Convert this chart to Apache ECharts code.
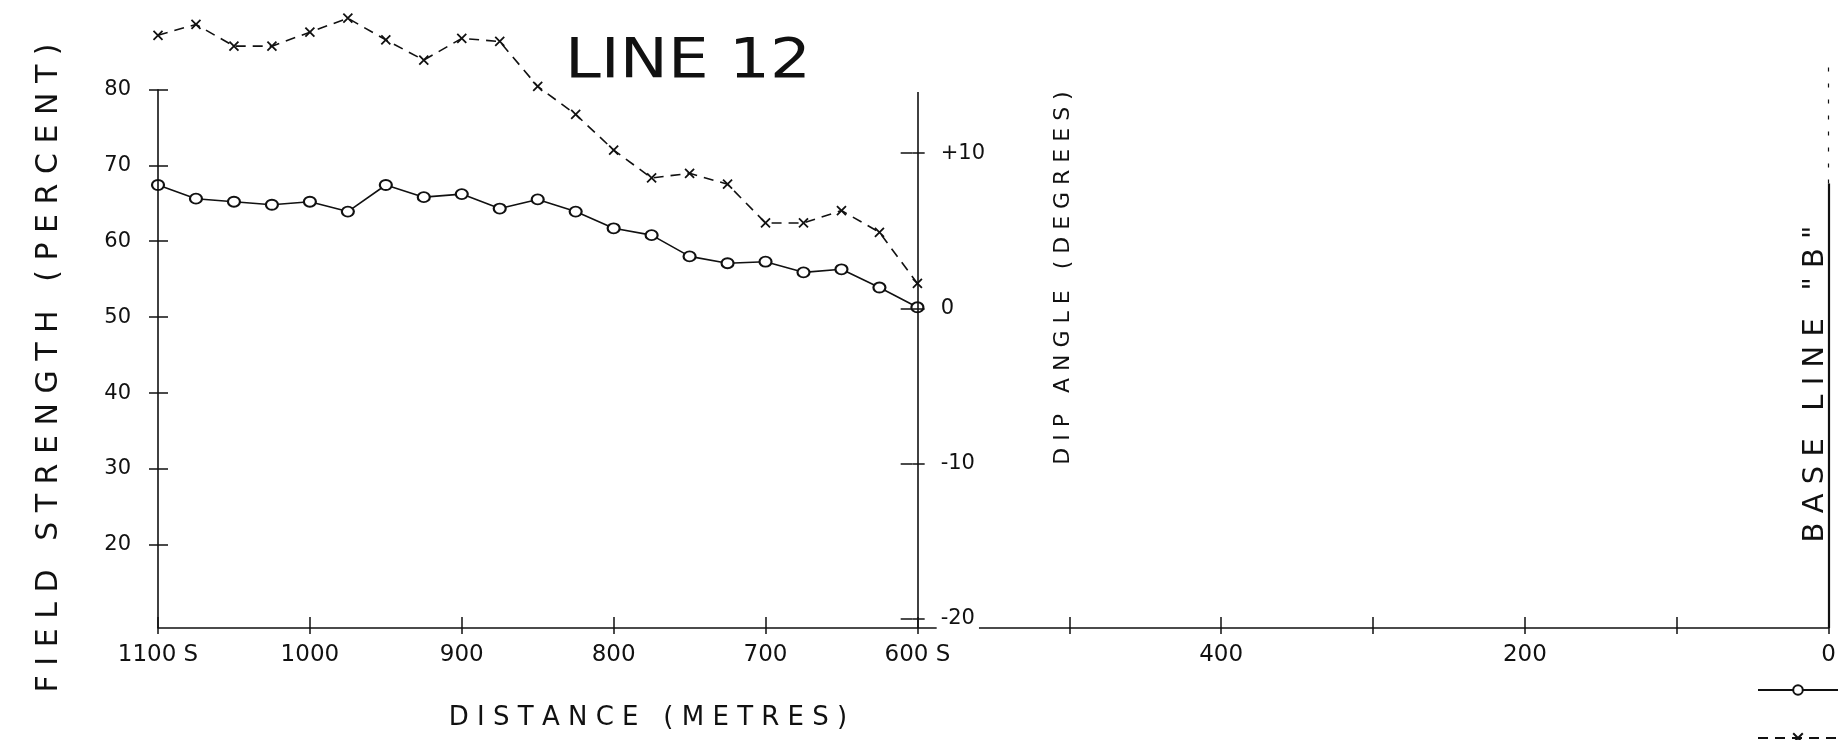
<!DOCTYPE html>
<html>
<head>
<meta charset="utf-8">
<script src="https://cdn.jsdelivr.net/npm/echarts@6/dist/echarts.min.js"></script>
<style>
html,body{margin:0;padding:0;background:#fff;}
#chart{width:1839px;height:740px;}
</style>
</head>
<body>
<div id="chart"></div>
<script>
// ---- data ----
const distances = [1100,1075,1050,1025,1000,975,950,925,900,875,850,825,800,775,750,725,700,675,650,625,600];
const fieldStrength = [67.4,65.6,65.2,64.8,65.2,63.9,67.4,65.8,66.2,64.3,65.5,63.9,61.7,60.8,58.0,57.1,57.3,55.9,56.3,53.9,51.3];
const dipAngle = [17.6,18.3,16.9,16.9,17.8,18.7,17.3,16.0,17.4,17.2,14.3,12.5,10.2,8.4,8.7,8.0,5.5,5.5,6.3,4.9,1.6];

const xTickValues = [1100,1000,900,800,700,600,500,400,300,200,100,0];
const xTickLabels = ['1100 S','1000','900','800','700','600 S','','400','','200','','0'];
const fieldTicks = [20,30,40,50,60,70,80];
const dipTicks = [-20,-10,0,10];
const dipTickLabels = ['-20','-10','0','+10'];

const distanceRange = [0,1100];
const fieldRange = [9.07,90.18];
const dipRange = [-20.61,19.10];
const fieldAxisTop = 80;
const dipAxisDistance = 600;
const dipAxisExtent = [-20.61,13.95];
const baseLineDistance = 0;
const baseLineSolid = [9.07,67.6];
const baseLineDashed = [67.6,84.1];

const seriesNames = ['Field strength','Dip angle'];

// ---- chart ----
const ink = '#111';
const font = "'DejaVu Sans', sans-serif";
const chart = echarts.init(document.getElementById('chart'));

const tickStyle = {color: ink, width: 1.5};
const option = {
  animation: false,
  backgroundColor: '#fff',
  grid: {left: 158, right: 2, top: 12, bottom: 112},
  legend: {
    left: 1757, top: 684, height: 120, padding: 0, orient: 'vertical',
    itemWidth: 80, itemHeight: 12, itemGap: 36,
    textStyle: {fontSize: 12, color: ink, fontFamily: font},
    data: seriesNames
  },
  xAxis: [
    {
      type: 'value', position: 'bottom', inverse: true,
      min: distanceRange[0], max: distanceRange[1], interval: 100,
      axisLine: {show: true, onZero: false, lineStyle: {color: ink, width: 1.5}},
      axisTick: {show: true, length: 6, lineStyle: tickStyle},
      axisLabel: {
        show: true, margin: 16, fontSize: 23, color: ink, fontFamily: font,
        formatter: function (v) { const i = xTickValues.indexOf(v); return i >= 0 ? xTickLabels[i] : ''; }
      },
      splitLine: {show: false}
    },
    {
      type: 'value', position: 'bottom', inverse: true,
      min: distanceRange[0], max: distanceRange[1], interval: 100,
      axisLine: {show: false, onZero: false},
      axisTick: {show: true, inside: true, length: 11, lineStyle: tickStyle},
      axisLabel: {show: false},
      splitLine: {show: false}
    }
  ],
  yAxis: [
    {
      type: 'value', position: 'left', min: fieldRange[0], max: fieldRange[1],
      axisLine: {show: false, onZero: false},
      axisTick: {show: true, length: 9, customValues: fieldTicks, lineStyle: tickStyle},
      axisLabel: {show: true, customValues: fieldTicks, margin: 27, fontSize: 21, color: ink, fontFamily: font},
      splitLine: {show: false}
    },
    {
      type: 'value', position: 'right', offset: -916, z: 5,
      min: dipRange[0], max: dipRange[1],
      axisLine: {show: false, onZero: false},
      axisTick: {show: true, length: 12, customValues: dipTicks, lineStyle: tickStyle},
      axisLabel: {
        show: true, customValues: dipTicks, margin: 24, fontSize: 21, color: ink, fontFamily: font,
        backgroundColor: '#fff', padding: [2, 4],
        formatter: function (v) { const i = dipTicks.indexOf(Math.round(v)); return i >= 0 ? dipTickLabels[i] : ''; }
      },
      splitLine: {show: false}
    },
    {
      type: 'value', position: 'left', min: fieldRange[0], max: fieldRange[1],
      axisLine: {show: false, onZero: false},
      axisTick: {show: true, inside: true, length: 10, customValues: fieldTicks, lineStyle: tickStyle},
      axisLabel: {show: false},
      splitLine: {show: false}
    },
    {
      type: 'value', position: 'right', offset: -916,
      min: dipRange[0], max: dipRange[1],
      axisLine: {show: false, onZero: false},
      axisTick: {show: true, inside: true, length: 12, customValues: dipTicks, lineStyle: tickStyle},
      axisLabel: {show: false},
      splitLine: {show: false}
    }
  ],
  graphic: [
    {type: 'text', x: 688, y: 63, scaleX: 1.17,
     style: {text: 'LINE 12', fontSize: 55, fontFamily: font, fill: ink, align: 'center', verticalAlign: 'middle'}},
    {type: 'text', x: 49, y: 368, rotation: Math.PI / 2,
     style: {text: 'F I E L D   S T R E N G T H   ( P E R C E N T )', fontSize: 30, fontFamily: font, fill: ink, align: 'center', verticalAlign: 'middle'}},
    {type: 'text', x: 1063, y: 278, rotation: Math.PI / 2,
     style: {text: 'D I P   A N G L E   ( D E G R E E S )', fontSize: 22, fontFamily: font, fill: ink, align: 'center', verticalAlign: 'middle'}},
    {type: 'text', x: 648, y: 718,
     style: {text: 'D I S T A N C E   ( M E T R E S )', fontSize: 26, fontFamily: font, fill: ink, align: 'center', verticalAlign: 'middle'}},
    {type: 'text', x: 1815, y: 384, rotation: Math.PI / 2,
     style: {text: 'B A S E   L I N E   " B "', fontSize: 29, fontFamily: font, fill: ink, align: 'center', verticalAlign: 'middle'}}
  ],
  series: [
    {
      name: seriesNames[0], type: 'line', xAxisIndex: 0, yAxisIndex: 0,
      data: distances.map(function (d, i) { return [d, fieldStrength[i]]; }),
      symbol: 'emptyCircle', symbolSize: [12, 10],
      lineStyle: {color: ink, width: 1.6},
      itemStyle: {color: ink, borderWidth: 1.8},
      emphasis: {disabled: true},
      markLine: {
        silent: true, symbol: ['none', 'none'], label: {show: false},
        lineStyle: {color: ink, width: 1.6, type: 'solid'},
        emphasis: {disabled: true},
        data: [
          [{coord: [distances[0], fieldRange[0]]}, {coord: [distances[0], fieldAxisTop]}],
          [{coord: [baseLineDistance, baseLineSolid[0]], lineStyle: {width: 2.2}}, {coord: [baseLineDistance, baseLineSolid[1]]}],
          [{coord: [baseLineDistance, baseLineDashed[0]], lineStyle: {width: 1.2, type: [4, 12]}}, {coord: [baseLineDistance, baseLineDashed[1]]}]
        ]
      }
    },
    {
      name: seriesNames[1], type: 'line', xAxisIndex: 0, yAxisIndex: 1,
      data: distances.map(function (d, i) { return [d, dipAngle[i]]; }),
      symbol: 'path://M0,0L10,10M10,0L0,10', symbolSize: 9,
      lineStyle: {color: ink, width: 1.6, type: [10, 7]},
      itemStyle: {color: ink, borderColor: ink, borderWidth: 1.8},
      emphasis: {disabled: true},
      markLine: {
        silent: true, symbol: ['none', 'none'], label: {show: false},
        lineStyle: {color: ink, width: 1.6, type: 'solid'},
        emphasis: {disabled: true},
        data: [
          [{coord: [dipAxisDistance, dipAxisExtent[0]]}, {coord: [dipAxisDistance, dipAxisExtent[1]]}]
        ]
      }
    }
  ]
};
chart.setOption(option);
</script>
</body>
</html>
